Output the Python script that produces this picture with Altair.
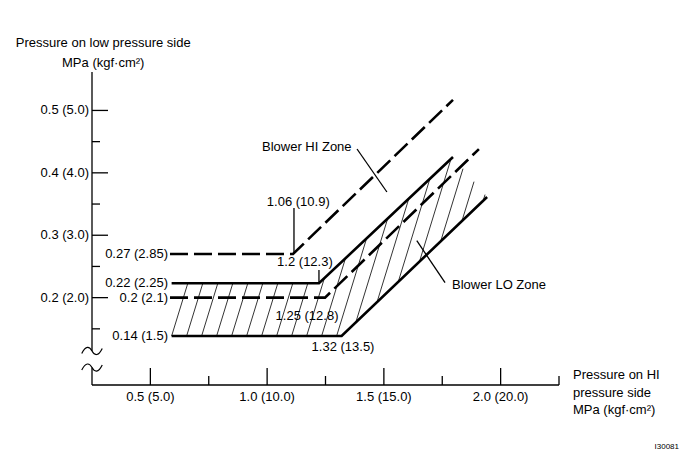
import altair as alt
import numpy as np
import pandas as pd

FONT = "Liberation Sans"
FS = 13

# ---------------- data (MPa) ----------------
x_major = [0.5, 1.0, 1.5, 2.0]
x_major_labels = ["0.5 (5.0)", "1.0 (10.0)", "1.5 (15.0)", "2.0 (20.0)"]
x_minor = [0.75, 1.25, 1.75, 2.25]
y_major = [0.2, 0.3, 0.4, 0.5]
y_major_labels = ["0.2 (2.0)", "0.3 (3.0)", "0.4 (4.0)", "0.5 (5.0)"]
y_minor = [0.15, 0.25, 0.35, 0.45]

hi_dash_x = [0.584, 1.111, 1.796]
hi_dash_y = [0.270, 0.270, 0.517]
up_solid_x = [0.591, 1.222, 1.796]
up_solid_y = [0.223, 0.223, 0.4254]
lo_dash_x = [0.584, 1.248, 1.907]
lo_dash_y = [0.200, 0.200, 0.438]
lo_solid_x = [0.591, 1.319, 1.942]
lo_solid_y = [0.1385, 0.1385, 0.3613]

level_labels = ["0.27 (2.85)", "0.22 (2.25)", "0.2 (2.1)", "0.14 (1.5)"]
level_values = [0.270, 0.223, 0.200, 0.1385]
level_label_x = 0.5755

kink_labels = ["1.06 (10.9)", "1.2 (12.3)", "1.25 (12.8)", "1.32 (13.5)"]
kink_label_x = [1.1335, 1.162, 1.171, 1.325]
kink_label_y = [0.3538, 0.257, 0.1706, 0.1209]

leader_x = [1.115, 1.222, 1.385, 1.641]
leader_y = [0.3437, 0.2443, 0.4382, 0.2913]
leader_x2 = [1.115, 1.222, 1.513, 1.762]
leader_y2 = [0.272, 0.223, 0.3693, 0.2239]

zone_labels = ["Blower HI Zone", "Blower LO Zone"]
zone_x = [0.978, 1.792]
zone_y = [0.4414, 0.2203]

y_title_lines = ["Pressure on low pressure side", "MPa (kgf·cm²)"]
y_title_x = 0.298
y_title_y = [0.6086, 0.5765]
x_title_lines = ["Pressure on HI", "pressure side", "MPa (kgf·cm²)"]
x_title_x = 2.310
x_title_y = [0.0755, 0.0475, 0.0203]

code_label = ["I30081"]

# ---------------- geometry of the frame ----------------
X0, X1 = 0.25, 2.25
Y0, Y1 = 0.06, 0.56
W, H = 467, 312
PX = W / (X1 - X0)
PY = H / (Y1 - Y0)

xs = alt.Scale(domain=[X0, X1], zero=False, nice=False)
ys = alt.Scale(domain=[Y0, Y1], zero=False, nice=False)


def X(f="x"):
    return alt.X(f"{f}:Q", scale=xs, axis=None)


def Y(f="y"):
    return alt.Y(f"{f}:Q", scale=ys, axis=None)


def poly(name, px, py):
    return pd.DataFrame({"series": name, "x": px, "y": py, "order": range(len(px))})


solid_df = pd.concat([poly("up", up_solid_x, up_solid_y), poly("lo", lo_solid_x, lo_solid_y)])
dash_df = pd.concat([poly("hi", hi_dash_x, hi_dash_y), poly("lod", lo_dash_x, lo_dash_y)])

solid = alt.Chart(solid_df).mark_line(color="black", strokeWidth=2.6, strokeJoin="miter").encode(
    x=X(), y=Y(), detail="series:N", order="order:Q")
dashed = alt.Chart(dash_df).mark_line(color="black", strokeWidth=2.6, strokeDash=[18, 6],
                                      strokeJoin="miter").encode(
    x=X(), y=Y(), detail="series:N", order="order:Q")

# ---------------- hatch pattern between the solid lines ----------------
k = 0.307 * PY / PX          # slant of hatch lines (dx/dy in data units)
dc = 15.0 / PX               # spacing of hatch lines
m_l = (lo_solid_y[2] - lo_solid_y[1]) / (lo_solid_x[2] - lo_solid_x[1])
m_u = (up_solid_y[2] - up_solid_y[1]) / (up_solid_x[2] - up_solid_x[1])
Ux, Uy = up_solid_x[2], up_solid_y[2]
Lx, Ly = lo_solid_x[2], lo_solid_y[2]
ex, ey = Lx - Ux, Ly - Uy
c0 = lo_solid_x[0] - k * lo_solid_y[0]
cmax = Lx - k * Ly
hx, hy, hx2, hy2 = [], [], [], []
for c in np.arange(c0, cmax, dc):
    yb = max(lo_solid_y[0], (lo_solid_y[0] + m_l * (c - lo_solid_x[1])) / (1 - m_l * k))
    yt = max(up_solid_y[0], (up_solid_y[0] + m_u * (c - up_solid_x[1])) / (1 - m_u * k))
    ye = (ex * Uy + ey * (c - Ux)) / (ex - k * ey)
    yt = min(yt, ye)
    if yt > yb + 1e-4:
        hx.append(c + k * yb); hy.append(yb); hx2.append(c + k * yt); hy2.append(yt)
hatch_df = pd.DataFrame({"x": hx, "y": hy, "x2": hx2, "y2": hy2})
hatch = alt.Chart(hatch_df).mark_rule(color="black", strokeWidth=0.8).encode(
    x=X(), y=Y(), x2="x2:Q", y2="y2:Q")

# ---------------- axes drawn as marks ----------------
tilde_y = [0.1145, 0.088]
axis_df = pd.DataFrame({
    "x": [X0, X0, X0],
    "x2": [X0, X0, X1],
    "y": [0.5616, tilde_y[1], Y0],
    "y2": [tilde_y[0], Y0, Y0],
})
axes = alt.Chart(axis_df).mark_rule(color="black", strokeWidth=1.3).encode(
    x=X(), y=Y(), x2="x2:Q", y2="y2:Q")

ytick_df = pd.DataFrame({
    "y": y_major + y_minor,
    "len": [16.0] * len(y_major) + [8.0] * len(y_minor),
})
ytick_df["x"] = X0
ytick_df["x2"] = X0 + ytick_df["len"] / PX
yticks = alt.Chart(ytick_df).mark_rule(color="black", strokeWidth=1.3).encode(
    x=X(), x2="x2:Q", y=Y())

xtick_df = pd.DataFrame({
    "x": x_major + x_minor,
    "len": [17.0] * len(x_major) + [9.0] * len(x_minor),
})
xtick_df["y"] = Y0
xtick_df["y2"] = Y0 + xtick_df["len"] / PY
xticks = alt.Chart(xtick_df).mark_rule(color="black", strokeWidth=1.3).encode(
    x=X(), y=Y(), y2="y2:Q")

tilde_df = pd.DataFrame({"x": [X0, X0], "y": tilde_y})
tildes = alt.Chart(tilde_df).mark_point(
    shape="M -1 0.25 C -0.6 -0.55 -0.25 -0.45 0 0 C 0.25 0.45 0.6 0.55 1 -0.25",
    size=420, filled=False, stroke="black", strokeWidth=1.2, opacity=1).encode(x=X(), y=Y())

ylab_df = pd.DataFrame({"x": X0 - 3 / PX, "y": y_major, "t": y_major_labels})
ylabels = alt.Chart(ylab_df).mark_text(align="right", baseline="middle", font=FONT,
                                       fontSize=FS, color="black").encode(
    x=X(), y=Y(), text="t:N")

xlab_df = pd.DataFrame({"x": x_major, "y": Y0 - 12 / PY, "t": x_major_labels})
xlabels = alt.Chart(xlab_df).mark_text(align="center", baseline="middle", font=FONT,
                                       fontSize=FS, color="black").encode(
    x=X(), y=Y(), text="t:N")

# ---------------- annotations ----------------
lev_df = pd.DataFrame({"x": level_label_x, "y": level_values, "t": level_labels})
levels = alt.Chart(lev_df).mark_text(align="right", baseline="middle", font=FONT,
                                     fontSize=FS, color="black").encode(
    x=X(), y=Y(), text="t:N")

kink_df = pd.DataFrame({"x": kink_label_x, "y": kink_label_y, "t": kink_labels})
kinks = alt.Chart(kink_df).mark_text(align="center", baseline="middle", font=FONT,
                                     fontSize=FS, color="black").encode(
    x=X(), y=Y(), text="t:N")

lead_df = pd.DataFrame({"x": leader_x, "y": leader_y, "x2": leader_x2, "y2": leader_y2})
leaders = alt.Chart(lead_df).mark_rule(color="black", strokeWidth=1.3).encode(
    x=X(), y=Y(), x2="x2:Q", y2="y2:Q")

zone_df = pd.DataFrame({"x": zone_x, "y": zone_y, "t": zone_labels})
zones = alt.Chart(zone_df).mark_text(align="left", baseline="middle", font=FONT,
                                     fontSize=FS, color="black").encode(
    x=X(), y=Y(), text="t:N")

yt_df = pd.DataFrame({"x": y_title_x, "y": y_title_y, "t": y_title_lines})
ytitle = alt.Chart(yt_df).mark_text(align="center", baseline="middle", font=FONT,
                                    fontSize=FS, color="black").encode(
    x=X(), y=Y(), text="t:N")

xt_df = pd.DataFrame({"x": x_title_x, "y": x_title_y, "t": x_title_lines})
xtitle = alt.Chart(xt_df).mark_text(align="left", baseline="middle", font=FONT,
                                    fontSize=FS, color="black").encode(
    x=X(), y=Y(), text="t:N")

code_df = pd.DataFrame({"x": [X0 + 587 / PX], "y": [Y0 - 62 / PY], "t": code_label})
code = alt.Chart(code_df).mark_text(align="right", baseline="middle", font=FONT,
                                    fontSize=8, color="black").encode(
    x=X(), y=Y(), text="t:N")

chart = alt.layer(
    hatch, axes, yticks, xticks, tildes, solid, dashed, leaders,
    ylabels, xlabels, levels, kinks, zones, ytitle, xtitle, code,
).properties(
    width=W, height=H,
    padding={"left": 84, "top": 65, "right": 121, "bottom": 67},
    autosize=alt.AutoSizeParams(type="none"),
    background="white",
).configure_view(stroke=None)

chart.save("out.html", embed_options={"renderer": "svg", "actions": False})
